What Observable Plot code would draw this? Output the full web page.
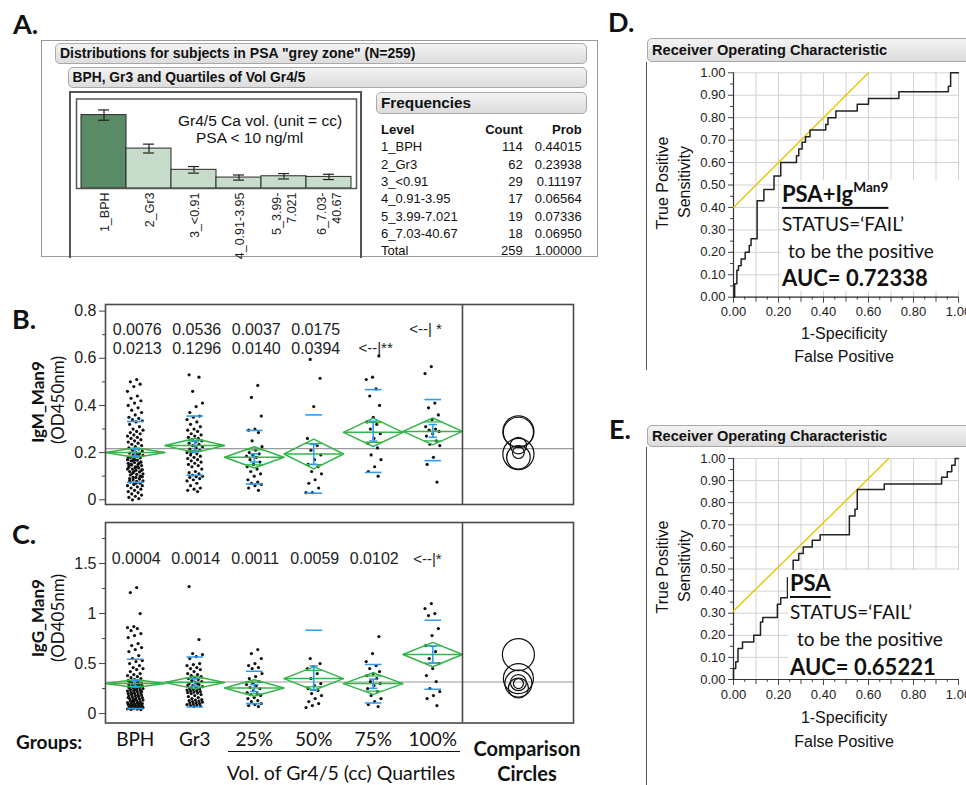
<!DOCTYPE html>
<html>
<head>
<meta charset="utf-8">
<script src="https://cdn.jsdelivr.net/npm/d3@7"></script>
<script src="https://cdn.jsdelivr.net/npm/@observablehq/plot@0.6"></script>
<style>
html,body{margin:0;padding:0;background:#fff;}
#root{position:relative;width:966px;height:785px;overflow:hidden;background:#fff;}
.abs{position:absolute;white-space:nowrap;line-height:1;}
.hdr{position:absolute;box-sizing:border-box;border:1px solid #a9a9a9;border-radius:5px;background:linear-gradient(#f3f3f3,#dcdcdc);font-family:"Liberation Sans",Arial,sans-serif;font-weight:bold;color:#111;padding-left:4px;display:flex;align-items:center;white-space:nowrap;overflow:hidden;}
.box{position:absolute;box-sizing:border-box;}
</style>
</head>
<body>
<div id="root"></div>
<script>
// ================= DATA =================
// Panel A – distribution of subjects
const levels = ["1_BPH","2_Gr3","3_<0.91","4_0.91-3.95","5_3.99-7.021","6_7.03-40.67"];
const levelTickLabels = ["1_BPH","2_Gr3","3_<0.91","4_0.91-3.95","5_3.99-\n7.021","6_7.03-\n40.67"];
const counts = [114, 62, 29, 17, 19, 18];
const countErr = [8.0, 6.9, 5.1, 4.0, 4.2, 4.1];
const probs = ["0.44015","0.23938","0.11197","0.06564","0.07336","0.06950"];
const totalCount = "259";
const totalProb = "1.00000";

// Panels B/C – groups
const groups = ["BPH","Gr3","25%","50%","75%","100%"];

// IgM_Man9 (OD450nm)
const igmBPH = [0.51,0.50,0.49,0.48,0.46,0.44,0.43,0.42,0.41,0.40,
  0.39,0.38,0.37,0.36,0.35,0.345,0.34,0.335,0.33,0.32,0.31,0.30,
  0.295,0.29,0.285,0.28,0.275,0.27,0.265,0.26,0.255,0.25,0.245,0.24,0.235,0.23,0.225,0.22,0.215,0.21,0.205,0.20,
  0.198,0.195,0.19,0.188,0.185,0.18,0.178,0.175,0.17,0.168,0.165,0.16,0.158,0.155,0.15,0.148,0.145,0.14,0.138,0.135,
  0.13,0.128,0.125,0.12,0.118,0.115,0.11,0.108,0.105,0.10,0.12,0.13,0.14,0.15,0.16,0.17,0.18,0.19,0.11,0.125,0.135,0.145,0.155,0.165,
  0.098,0.095,0.09,0.088,0.085,0.08,0.078,0.075,0.07,0.065,0.06,0.055,0.05,0.045,0.04,0.035,0.03,0.025,0.02,0.015,0.01,0.005,0.0,0.06,0.07,0.08,0.09,0.095];
const igmGr3 = [0.53,0.52,0.46,0.41,0.395,0.37,0.355,0.35,0.34,0.33,0.32,0.31,0.30,0.295,0.29,0.28,0.275,0.27,0.265,0.26,
  0.255,0.25,0.245,0.24,0.235,0.23,0.225,0.22,0.215,0.21,0.205,0.20,0.195,0.19,0.185,0.18,0.175,0.17,0.165,0.16,
  0.155,0.15,0.145,0.14,0.13,0.12,0.115,0.11,0.105,0.10,0.098,0.095,0.09,0.085,0.08,0.07,0.06,0.05,0.045,0.04,0.035,0.2];
const igmQ1 = [0.485,0.434,0.355,0.30,0.295,0.285,0.25,0.225,0.21,0.2,0.195,0.19,0.185,0.18,0.17,0.16,0.15,0.14,0.13,0.12,0.11,0.10,0.085,0.075,0.07,0.065,0.06,0.05,0.04];
const igmQ2 = [0.595,0.515,0.395,0.26,0.23,0.21,0.19,0.17,0.15,0.14,0.12,0.11,0.085,0.07,0.05,0.03,0.03];
const igmQ3 = [0.61,0.52,0.51,0.47,0.44,0.40,0.35,0.33,0.32,0.30,0.28,0.26,0.24,0.22,0.19,0.17,0.14,0.12,0.10];
const igmQ4 = [0.565,0.535,0.41,0.39,0.36,0.34,0.31,0.30,0.295,0.29,0.28,0.27,0.25,0.235,0.23,0.18,0.15,0.075];
const igmMeans = [0.200,0.230,0.180,0.194,0.286,0.290];
const igmCI    = [0.021,0.030,0.045,0.063,0.060,0.057];
const igmSDHi  = [0.332,0.355,0.294,0.360,0.467,0.425];
const igmSDLo  = [0.074,0.104,0.067,0.028,0.116,0.166];
const igmSELo  = [0.185,0.202,0.160,0.150,0.249,0.265];
const igmSEHi  = [0.216,0.247,0.195,0.235,0.333,0.319];
const igmCircleR = [0.025,0.035,0.050,0.066,0.064,0.066];
const igmGrand = 0.217;
const igmTicks = [0, 0.2, 0.4, 0.6, 0.8];
const igmMinorTicks = [0.1, 0.3, 0.5, 0.7];
const igmPRow1 = ["0.0076","0.0536","0.0037","0.0175"];
const igmPRow2 = ["0.0213","0.1296","0.0140","0.0394"];
const igmMark1 = "<--| *";
const igmMark2 = "<--|**";

// IgG_Man9 (OD405nm)
const iggBPH = [1.26,1.21,1.0,0.87,0.86,0.85,0.83,0.80,0.78,0.76,0.70,0.68,0.66,0.64,0.62,
  0.58,0.55,0.53,0.52,0.50,0.48,0.46,0.45,0.44,0.42,0.40,0.39,0.38,0.37,0.36,0.35,0.34,0.33,0.32,0.31,
  0.30,0.295,0.29,0.285,0.28,0.275,0.27,0.265,0.26,0.255,0.25,0.245,0.24,0.235,0.23,0.225,0.22,0.215,0.21,0.205,0.20,
  0.195,0.19,0.185,0.18,0.175,0.17,0.165,0.16,0.155,0.15,0.145,0.14,0.135,0.13,0.125,0.12,0.115,0.11,0.105,0.10,
  0.098,0.095,0.092,0.09,0.088,0.085,0.082,0.08,0.078,0.075,0.072,0.07,0.068,0.065,0.062,0.06,0.058,0.055,0.052,0.05,0.048,0.045,0.042,0.04,
  0.14,0.16,0.18,0.2,0.22,0.24,0.26,0.28,0.12,0.1,0.3,0.32,0.11,0.13];
const iggGr3 = [1.27,0.74,0.60,0.59,0.57,0.55,0.50,0.49,0.48,0.46,0.45,0.44,0.42,0.40,0.39,0.38,0.37,0.36,
  0.35,0.34,0.33,0.32,0.31,0.30,0.29,0.28,0.27,0.26,0.25,0.245,0.24,0.235,0.23,0.225,0.22,0.215,0.21,0.205,
  0.20,0.19,0.18,0.17,0.16,0.15,0.14,0.135,0.13,0.125,0.12,0.115,0.11,0.105,0.10,0.095,0.09,0.085,0.08,0.075,0.07,0.28,0.3,0.26];
const iggQ1 = [0.64,0.60,0.55,0.50,0.48,0.46,0.45,0.40,0.37,0.35,0.32,0.30,0.29,0.28,0.26,0.25,0.23,0.21,0.20,0.19,0.18,0.16,0.15,0.13,0.12,0.10,0.09,0.08,0.07];
const iggQ2 = [0.55,0.50,0.47,0.45,0.40,0.35,0.30,0.28,0.25,0.23,0.20,0.18,0.15,0.12,0.10,0.08,0.06];
const iggQ3 = [0.77,0.60,0.52,0.48,0.45,0.42,0.40,0.38,0.35,0.32,0.30,0.28,0.25,0.22,0.18,0.15,0.12,0.09,0.07];
const iggQ4 = [1.10,1.05,1.0,0.98,0.85,0.78,0.68,0.62,0.55,0.50,0.45,0.38,0.32,0.25,0.22,0.18,0.15,0.08];
const iggMeans = [0.300,0.310,0.256,0.350,0.300,0.590];
const iggCI    = [0.040,0.063,0.083,0.117,0.108,0.122];
const iggSDHi  = [0.543,0.566,0.423,0.833,0.490,0.933];
const iggSDLo  = [0.050,0.066,0.100,-0.130,0.106,0.243];
const iggSELo  = [0.270,0.275,0.220,0.233,0.253,0.506];
const iggSEHi  = [0.330,0.350,0.290,0.476,0.343,0.673];
const iggCircleR = [0.050,0.080,0.100,0.150,0.135,0.160];
const iggGrand = 0.316;
const iggTicks = [0, 0.5, 1, 1.5];
const iggMinorTicks = [0.25, 0.75, 1.25, 1.75];
const iggPRow = ["0.0004","0.0014","0.0011","0.0059","0.0102"];
const iggMark = "<--|*";

// ROC curves (1-Specificity, Sensitivity) – corners of the step curve
const rocD_fpr = [0,0.005,0.015,0.022,0.034,0.052,0.07,0.078,0.105,0.135,0.18,0.21,0.28,0.29,0.305,0.32,0.34,0.41,0.42,0.455,0.55,0.60,0.735,0.955,0.965,1];
const rocD_tpr = [0,0.06,0.12,0.14,0.17,0.20,0.23,0.26,0.43,0.48,0.54,0.60,0.63,0.66,0.69,0.715,0.745,0.77,0.80,0.83,0.86,0.885,0.915,0.94,1.0,1.0];
const rocE_fpr = [0,0,0.01,0.02,0.04,0.09,0.12,0.13,0.195,0.21,0.24,0.265,0.29,0.31,0.35,0.385,0.515,0.54,0.55,0.67,0.925,0.95,0.97,0.985,1];
const rocE_tpr = [0,0.05,0.08,0.14,0.17,0.20,0.26,0.28,0.34,0.37,0.46,0.54,0.57,0.60,0.63,0.655,0.74,0.77,0.86,0.885,0.915,0.94,0.97,1.0,1.0];
const tangentD = {x: [0, 0.60], y: [0.40, 1.00]};
const tangentE = {x: [0, 0.69], y: [0.31, 1.00]};
const rocYTicks = [0,0.1,0.2,0.3,0.4,0.5,0.6,0.7,0.8,0.9,1.0];
const rocXTicks = [0,0.2,0.4,0.6,0.8,1.0];
const rocGrid = [0,0.1,0.2,0.3,0.4,0.5,0.6,0.7,0.8,0.9,1.0];
const aucD = "0.72338";
const aucE = "0.65221";

// ================= LAYOUT / STYLE =================
const SANS = "'Liberation Sans', Arial, Helvetica, sans-serif";
const CAL = "Lato, 'Open Sans', sans-serif";
const GREEN = "#35b44a", BLUE = "#2e9cf0", YELLOW = "#e3c800";
const BAR_DARK = "#588b66", BAR_LIGHT = "#c7dccb";
const root = document.getElementById("root");

function addText(html, x, y, o = {}) {
  const d = document.createElement("div");
  d.className = "abs";
  d.innerHTML = html;
  d.style.left = x + "px"; d.style.top = y + "px";
  d.style.fontFamily = o.family || SANS;
  d.style.fontSize = (o.size || 13) + "px";
  d.style.fontWeight = o.weight || "normal";
  d.style.color = o.color || "#111";
  const tx = o.anchor === "middle" ? "-50%" : o.anchor === "end" ? "-100%" : "0";
  d.style.transform = o.rotate ? `translate(-50%,-50%) rotate(${o.rotate}deg)` : `translate(${tx},-50%)`;
  if (o.css) Object.assign(d.style, o.css);
  root.appendChild(d);
  return d;
}
function addBox(x, y, w, h, css) {
  const d = document.createElement("div");
  d.className = "box";
  Object.assign(d.style, {left: x + "px", top: y + "px", width: w + "px", height: h + "px"}, css);
  root.appendChild(d);
  return d;
}
function addHeader(txt, x, y, w, h, size) {
  const d = addBox(x, y, w, h, {});
  d.className = "hdr";
  d.style.fontSize = size + "px";
  d.textContent = txt;
  return d;
}
function place(node, x, y) {
  node.style.position = "absolute";
  node.style.left = x + "px"; node.style.top = y + "px";
  root.appendChild(node);
}
const plotStyle = (size) => ({fontFamily: SANS, fontSize: size + "px", background: "transparent", color: "#222", overflow: "visible", maxWidth: "none"});

// ================= PANEL A =================
addText("A.", 13, 23, {family: CAL, weight: "bold", size: 27});
addBox(41, 39.5, 556.5, 217.5, {border: "1px solid #9a9a9a"});
addHeader('Distributions for subjects in PSA "grey zone" (N=259)', 55, 42.5, 532, 21, 14);
addHeader("BPH, Gr3 and Quartiles of Vol Gr4/5", 67.5, 66.5, 519.5, 21, 13.8);
addHeader("Frequencies", 376, 91.5, 211, 22, 15.3);
addBox(69, 90.5, 293, 167, {borderLeft: "2px solid #555", borderTop: "2px solid #555", borderRight: "2px solid #555"});

const aData = levels.map((l, i) => ({level: l, count: counts[i], err: countErr[i]}));
const barA = Plot.plot({
  width: 289, height: 164, marginLeft: 10, marginRight: 9, marginTop: 5.5, marginBottom: 69,
  style: plotStyle(13),
  x: {domain: levels, padding: 0, axis: null},
  y: {domain: [0, 139], axis: null},
  color: {domain: levels, range: [BAR_DARK, BAR_LIGHT, BAR_LIGHT, BAR_LIGHT, BAR_LIGHT, BAR_LIGHT]},
  marks: [
    Plot.barY(aData, {x: "level", y: "count", fill: "level", stroke: "#2a2a2a", strokeWidth: 1}),
    Plot.ruleX(aData, {x: "level", y1: d => d.count - d.err, y2: d => d.count + d.err, stroke: "#222", strokeWidth: 1.2}),
    Plot.tickY(aData, {x: "level", y: d => d.count - d.err, inset: 17, stroke: "#222", strokeWidth: 1.2}),
    Plot.tickY(aData, {x: "level", y: d => d.count + d.err, inset: 17, stroke: "#222", strokeWidth: 1.2}),
    Plot.frame({insetLeft: -5, insetRight: -5, stroke: "#555", strokeWidth: 1.5}),
    Plot.axisX({tickRotate: -90, tickSize: 0, tickPadding: 4, fontSize: 12.5, lineHeight: 1.15, label: null,
      tickFormat: d => levelTickLabels[levels.indexOf(d)]})
  ]
});
place(barA, 71, 92.5);
addText("Gr4/5 Ca vol. (unit = cc)", 178, 121, {size: 15.5});
addText("PSA &lt; 10 ng/ml", 196, 138, {size: 15.5});

// frequency table
const rowY0 = 129, rowDY = 17.3;
addText("Level", 381, rowY0, {size: 13, weight: "bold"});
addText("Count", 522.7, rowY0, {size: 13, weight: "bold", anchor: "end"});
addText("Prob", 581.7, rowY0, {size: 13, weight: "bold", anchor: "end"});
levels.forEach((l, i) => {
  const y = rowY0 + rowDY * (i + 1);
  addText(l.replace("<", "&lt;"), 381, y, {size: 13});
  addText(String(counts[i]), 522.7, y, {size: 13, anchor: "end"});
  addText(probs[i], 581.7, y, {size: 13, anchor: "end"});
});
addText("Total", 381, rowY0 + rowDY * 7, {size: 13});
addText(totalCount, 522.7, rowY0 + rowDY * 7, {size: 13, anchor: "end"});
addText(totalProb, 581.7, rowY0 + rowDY * 7, {size: 13, anchor: "end"});

// ================= PANELS B & C =================
const jitter = (i, g) => (((i * 37 + g * 13) % 23) / 22 - 0.5) * 0.26;
const CIRCLE_X = 7.44;
const OVL = 0.5 * (1 - Math.SQRT1_2);

function groupPlot(cfg) {
  const {values, means, ci, sdHi, sdLo, seLo, seHi, circR, grand, yDomain, ticks, minor, height, marginBottom, extraMarks} = cfg;
  const dots = values.flatMap((arr, k) => arr.map((v, i) => ({g: k + 1, i, v})));
  const dia = means.flatMap((m, k) => {
    const g = k + 1, c = ci[k];
    return [[g - 0.5, m], [g, m + c], [g + 0.5, m], [g, m - c], [g - 0.5, m]].map(([x, y]) => ({g, x, y}));
  });
  const idx = means.map((m, k) => k);
  const ovl = idx.flatMap(k => [means[k] + ci[k] * Math.SQRT1_2, means[k] - ci[k] * Math.SQRT1_2].map(y => ({k, y})));
  const span = yDomain[1] - yDomain[0];
  const innerH = height - 10 - marginBottom;
  return Plot.plot({
    width: 578, height, marginLeft: 105, marginRight: 5, marginTop: 10, marginBottom,
    style: plotStyle(16),
    x: {domain: [0.5, 8.366], axis: null},
    y: {domain: yDomain, label: null, axis: null},
    r: {type: "linear", domain: [0, span], range: [0, innerH]},
    marks: [
      Plot.ruleY([grand], {stroke: "#9a9a9a", strokeWidth: 1.2}),
      Plot.dot(dots, {x: d => d.g + jitter(d.i, d.g), y: "v", r: 1.6, fill: "#111", stroke: "none", clip: true}),
      Plot.line(dia, {x: "x", y: "y", z: "g", stroke: GREEN, strokeWidth: 1.5}),
      Plot.link(idx, {x1: k => k + 0.5, x2: k => k + 1.5, y1: k => means[k], y2: k => means[k], stroke: GREEN, strokeWidth: 1.5}),
      Plot.link(ovl, {x1: d => d.k + 1 - OVL, x2: d => d.k + 1 + OVL, y1: "y", y2: "y", stroke: GREEN, strokeWidth: 1.3}),
      Plot.link(idx, {x1: k => k + 0.86, x2: k => k + 1.14, y1: k => sdHi[k], y2: k => sdHi[k], stroke: BLUE, strokeWidth: 1.6, clip: true}),
      Plot.link(idx, {x1: k => k + 0.86, x2: k => k + 1.14, y1: k => sdLo[k], y2: k => sdLo[k], stroke: BLUE, strokeWidth: 1.6, clip: true}),
      Plot.link(idx, {x1: k => k + 1, x2: k => k + 1, y1: k => seLo[k], y2: k => seHi[k], stroke: BLUE, strokeWidth: 1.6}),
      Plot.link(idx, {x1: k => k + 0.93, x2: k => k + 1.07, y1: k => seLo[k], y2: k => seLo[k], stroke: BLUE, strokeWidth: 1.6}),
      Plot.link(idx, {x1: k => k + 0.93, x2: k => k + 1.07, y1: k => seHi[k], y2: k => seHi[k], stroke: BLUE, strokeWidth: 1.6}),
      Plot.dot(idx, {x: () => CIRCLE_X, y: k => means[k], r: k => circR[k], stroke: "#111", fill: "none", strokeWidth: 1.2}),
      Plot.axisY({ticks, tickFormat: d3.format("~g"), tickSize: 6, tickPadding: 3, fontSize: 16, label: null, stroke: "#444"}),
      Plot.axisY({ticks: minor, tickSize: 3, tickFormat: () => "", label: null, stroke: "#444"}),
      Plot.frame({stroke: "#4a4a4a", strokeWidth: 1.6}),
      Plot.ruleX([6.5], {stroke: "#4a4a4a", strokeWidth: 1.6}),
      ...extraMarks
    ]
  });
}

// Panel B
addText("B.", 12, 318, {family: CAL, weight: "bold", size: 27});
const plotB = groupPlot({
  values: [igmBPH, igmGr3, igmQ1, igmQ2, igmQ3, igmQ4],
  means: igmMeans, ci: igmCI, sdHi: igmSDHi, sdLo: igmSDLo, seLo: igmSELo, seHi: igmSEHi,
  circR: igmCircleR, grand: igmGrand, yDomain: [-0.02, 0.828], ticks: igmTicks, minor: igmMinorTicks,
  height: 216, marginBottom: 6,
  extraMarks: [
    Plot.text(igmPRow1, {x: (d, i) => i + 1, frameAnchor: "top", dy: 19, dx: 2, text: d => d, fontSize: 16}),
    Plot.text(igmPRow2, {x: (d, i) => i + 1, frameAnchor: "top", dy: 38, dx: 2, text: d => d, fontSize: 16}),
    Plot.text([igmMark1], {x: () => 5.88, frameAnchor: "top", dy: 19, text: d => d, fontSize: 15}),
    Plot.text([igmMark2], {x: () => 5.04, frameAnchor: "top", dy: 38, text: d => d, fontSize: 15})
  ]
});
place(plotB, 0, 294);
addText("IgM_Man9", 37, 402, {family: CAL, weight: "bold", size: 17, rotate: -90});
addText("(OD450nm)", 57, 400, {family: CAL, size: 17, rotate: -90});

// Panel C
addText("C.", 12, 533, {family: CAL, weight: "bold", size: 27});
const plotC = groupPlot({
  values: [iggBPH, iggGr3, iggQ1, iggQ2, iggQ3, iggQ4],
  means: iggMeans, ci: iggCI, sdHi: iggSDHi, sdLo: iggSDLo, seLo: iggSELo, seHi: iggSEHi,
  circR: iggCircleR, grand: iggGrand, yDomain: [-0.094, 1.91], ticks: iggTicks, minor: iggMinorTicks,
  height: 273, marginBottom: 62.5,
  extraMarks: [
    Plot.text(iggPRow, {x: (d, i) => i + 1, frameAnchor: "top", dy: 30.5, dx: 1, text: d => d, fontSize: 16}),
    Plot.text([iggMark], {x: () => 5.91, frameAnchor: "top", dy: 30.5, text: d => d, fontSize: 15}),
    Plot.axisX({ticks: [1, 2, 3, 4, 5, 6], tickFormat: d => groups[d - 1], tickSize: 0, tickPadding: 9,
      fontSize: 19, fontFamily: CAL, label: null, stroke: "none", fill: "#111"})
  ]
});
place(plotC, 0, 512);
addText("IgG_Man9", 37, 618, {family: CAL, weight: "bold", size: 17, rotate: -90});
addText("(OD405nm)", 57, 618, {family: CAL, size: 17, rotate: -90});

addText("Groups:", 16, 741, {family: CAL, weight: "bold", size: 19});
addBox(228, 750.5, 232, 1.6, {background: "#111"});
addText("Vol. of Gr4/5 (cc) Quartiles", 341, 773, {family: CAL, size: 19.5, anchor: "middle"});
addText("Comparison", 527, 748, {family: CAL, weight: "bold", size: 20, anchor: "middle"});
addText("Circles", 527, 773, {family: CAL, weight: "bold", size: 20, anchor: "middle"});

// ================= PANELS D & E =================
function rocPlot(fpr, tpr, tangent, height, marginTop, marginBottom) {
  const pts = fpr.map((x, i) => ({x, y: tpr[i]}));
  const tan = tangent.x.map((x, i) => ({x, y: tangent.y[i]}));
  const minor = rocGrid.slice(0, -1).map((v, i) => (v + rocGrid[i + 1]) / 2);
  return Plot.plot({
    width: 330, height, marginLeft: 97, marginRight: 8, marginTop, marginBottom,
    style: plotStyle(13),
    x: {domain: [0, 1], axis: null},
    y: {domain: [0, 1], axis: null},
    marks: [
      Plot.gridX({ticks: rocGrid, stroke: "#d2d2d2", strokeOpacity: 1}),
      Plot.gridY({ticks: rocGrid, stroke: "#d2d2d2", strokeOpacity: 1}),
      Plot.axisY({ticks: rocYTicks, tickFormat: d3.format(".2f"), tickSize: 5, tickPadding: 3, fontSize: 13, label: null, stroke: "#444"}),
      Plot.axisY({ticks: minor, tickSize: 3, tickFormat: () => "", label: null, stroke: "#444"}),
      Plot.axisX({ticks: rocXTicks, tickFormat: d3.format(".2f"), tickSize: 6, tickPadding: 4, fontSize: 13, label: null, stroke: "#444"}),
      Plot.axisX({ticks: rocGrid.filter((v, i) => i % 2 === 1), tickSize: 5, tickFormat: () => "", label: null, stroke: "#444"}),
      Plot.axisX({ticks: minor, tickSize: 3, tickFormat: () => "", label: null, stroke: "#444"}),
      Plot.ruleX([0], {stroke: "#333", strokeWidth: 1.2}),
      Plot.ruleY([0], {stroke: "#333", strokeWidth: 1.2}),
      Plot.line(tan, {x: "x", y: "y", stroke: YELLOW, strokeWidth: 1.4}),
      Plot.line(pts, {x: "x", y: "y", curve: "step-after", stroke: "#222", strokeWidth: 1.5})
    ]
  });
}

// Panel D
addText("D.", 608, 21, {family: CAL, weight: "bold", size: 27});
addHeader("Receiver Operating Characteristic", 647, 38, 330, 24, 14.6);
addBox(646, 62, 1, 308, {background: "#555"});
place(rocPlot(rocD_fpr, rocD_tpr, tangentD, 308, 10.3, 73.3), 636, 62);
addText("True Positive", 663, 183, {size: 16, rotate: -90});
addText("Sensitivity", 685, 182, {size: 16, rotate: -90});
addText("1-Specificity", 844, 334, {size: 16, anchor: "middle"});
addText("False Positive", 844, 357, {size: 16, anchor: "middle"});
addBox(781, 180, 181, 111, {background: "#fff"});
addText("PSA+Ig<sup style='font-size:0.62em;vertical-align:0.75em'>Man9</sup>", 782, 193,
  {family: CAL, weight: "bold", size: 22, css: {textDecoration: "underline", textDecorationThickness: "2px", textUnderlineOffset: "5px"}});
addText("STATUS=‘FAIL’", 782, 223, {family: CAL, size: 19});
addText("to be the positive", 788, 250, {family: CAL, size: 19});
addText("AUC= " + aucD, 782, 278, {family: CAL, weight: "bold", size: 22});

// Panel E
addText("E.", 609, 428, {family: CAL, weight: "bold", size: 27});
addHeader("Receiver Operating Characteristic", 647, 424.5, 330, 22, 14.6);
addBox(646, 446.5, 1, 340, {background: "#555"});
place(rocPlot(rocE_fpr, rocE_tpr, tangentE, 339, 12, 106), 636, 446);
addText("True Positive", 663, 567, {size: 16, rotate: -90});
addText("Sensitivity", 685, 566, {size: 16, rotate: -90});
addText("1-Specificity", 844, 718, {size: 16, anchor: "middle"});
addText("False Positive", 844, 742, {size: 16, anchor: "middle"});
addBox(788, 570, 174, 108, {background: "#fff"});
addText("PSA", 790, 583,
  {family: CAL, weight: "bold", size: 22, css: {textDecoration: "underline", textDecorationThickness: "2px", textUnderlineOffset: "5px"}});
addText("STATUS=‘FAIL’", 790, 611, {family: CAL, size: 19});
addText("to be the positive", 797, 638, {family: CAL, size: 19});
addText("AUC= " + aucE, 790, 667, {family: CAL, weight: "bold", size: 22});
</script>
</body>
</html>
